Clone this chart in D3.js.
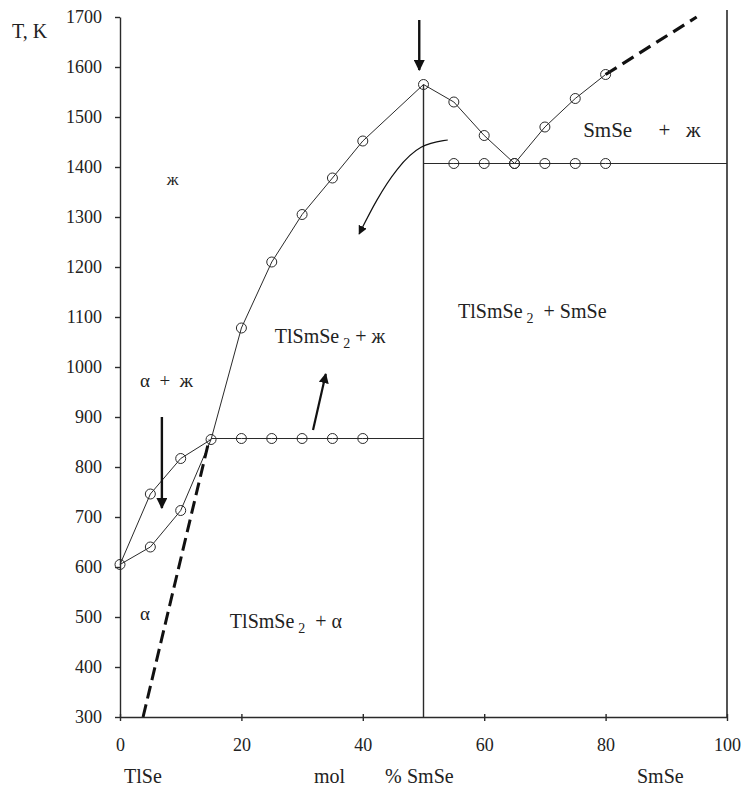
<!DOCTYPE html>
<html>
<head>
<meta charset="utf-8">
<script src="https://cdn.jsdelivr.net/npm/d3@7"></script>
<style>
  body { margin: 0; background: #fff; }
  svg text { font-family: "Liberation Serif", "DejaVu Serif", serif; fill: #222; white-space: pre; }
</style>
</head>
<body>
<div id="chart"></div>
<script>
// tick labels
const xTicks = [0, 20, 40, 60, 80, 100];
const yTicks = [300, 400, 500, 600, 700, 800, 900, 1000, 1100, 1200, 1300, 1400, 1500, 1600, 1700];

// liquidus of the alpha solid solution (upper) and solidus (lower)
const alphaLiqX = [0, 5, 10, 15];
const alphaLiqT = [605, 746, 817, 855];
const alphaSolX = [0, 5, 10, 15];
const alphaSolT = [605, 640, 713, 855];

// liquidus of TlSmSe2
const tlLiqX = [15, 20, 25, 30, 35, 40, 50];
const tlLiqT = [855, 1078, 1210, 1305, 1378, 1452, 1565];

// liquidus towards SmSe
const smLiqX = [50, 55, 60, 65, 70, 75, 80];
const smLiqT = [1565, 1530, 1463, 1407, 1480, 1537, 1585];
const smDashX = [80, 95];
const smDashT = [1585, 1700];

// alpha boundary (dashed)
const alphaDashX = [3.8, 14.7];
const alphaDashT = [300, 855];

// invariant lines
const eutX = [15, 20, 25, 30, 35, 40];
const eutT = 857;
const eutEnd = 50;
const perX = [55, 60, 65, 70, 75, 80];
const perT = 1407;
const perStart = 50, perEnd = 100;

const createDiagram = () => {
    const container = d3.select("#chart");
    container.selectAll("*").remove();
    const w = 742, h = 787;
    const svg = container.append("svg").attr("width", w).attr("height", h);

    const x = d3.scaleLinear().domain([0, 100]).range([120, 727]);
    const y = d3.scaleLinear().domain([300, 1700]).range([717, 17]);
    const ink = "#2a2a2a";

    const defs = svg.append("defs");
    defs.append("marker").attr("id", "head")
        .attr("viewBox", "0 0 10 10").attr("refX", 9).attr("refY", 5)
        .attr("markerWidth", 4.6).attr("markerHeight", 4.6).attr("orient", "auto")
        .append("path").attr("d", "M0,0 L10,5 L0,10 Z").attr("fill", "#111");
    defs.append("marker").attr("id", "headThin")
        .attr("viewBox", "0 0 10 10").attr("refX", 9).attr("refY", 5)
        .attr("markerWidth", 9).attr("markerHeight", 9).attr("markerUnits", "userSpaceOnUse")
        .attr("orient", "auto")
        .append("path").attr("d", "M0,0 L10,5 L0,10 Z").attr("fill", "#111");

    // axes
    const gx = svg.append("g").attr("transform", `translate(0,${y(300)})`)
        .call(d3.axisBottom(x).tickValues(xTicks).tickSize(4).tickSizeOuter(0));
    gx.selectAll(".tick line").attr("y1", -3);
    gx.selectAll(".tick text").attr("y", 34).attr("dy", 0).style("font-size", "18px");
    const gy = svg.append("g").attr("transform", `translate(${x(0)},0)`)
        .call(d3.axisLeft(y).tickValues(yTicks).tickFormat(d3.format("d")).tickSize(5).tickSizeOuter(0));
    gy.selectAll(".tick text").attr("x", -18).style("font-size", "18px");
    svg.selectAll(".domain, .tick line").attr("stroke", ink).attr("stroke-width", 1.4);

    const line = d3.line().x(d => x(d[0])).y(d => y(d[1]));
    const path = (xs, ts, opt = {}) => svg.append("path")
        .attr("d", line(xs.map((v, i) => [v, ts[i]])))
        .attr("fill", "none").attr("stroke", opt.color || ink)
        .attr("stroke-width", opt.width || 1)
        .attr("stroke-dasharray", opt.dash || null);

    // boundary verticals
    path([50, 50], [300, 1565], { width: 1.4 });
    path([100, 100], [300, 1714], { width: 1.6 });

    // curves
    path(alphaLiqX, alphaLiqT);
    path(alphaSolX, alphaSolT);
    path(tlLiqX, tlLiqT);
    path(smLiqX, smLiqT);
    path(eutX.concat([eutEnd]), eutX.map(() => eutT).concat([eutT]));
    path([perStart].concat(perX, [perEnd]), [perT].concat(perX.map(() => perT), [perT]));
    path(smDashX, smDashT, { width: 3.2, dash: "13,7", color: "#111" });
    path(alphaDashX, alphaDashT, { width: 3, dash: "13,6", color: "#111" });

    // circles
    const pts = [];
    alphaLiqX.forEach((v, i) => pts.push([v, alphaLiqT[i]]));
    alphaSolX.slice(1, 3).forEach((v, i) => pts.push([v, alphaSolT[i + 1]]));
    tlLiqX.slice(1).forEach((v, i) => pts.push([v, tlLiqT[i + 1]]));
    smLiqX.slice(1).forEach((v, i) => pts.push([v, smLiqT[i + 1]]));
    eutX.slice(1).forEach(v => pts.push([v, eutT]));
    perX.forEach(v => pts.push([v, perT]));
    svg.selectAll("circle.pt").data(pts).join("circle").attr("class", "pt")
        .attr("cx", d => x(d[0])).attr("cy", d => y(d[1])).attr("r", 5)
        .attr("fill", "none").attr("stroke", ink).attr("stroke-width", 1);

    // arrows
    const arrows = [
        { xs: [49.3, 49.3], ts: [1694, 1594], width: 2.4 },
        { xs: [6.9, 6.9], ts: [900, 718], width: 2.4 },
        { xs: [31.8, 33.9], ts: [874, 986], width: 2.2 }
    ];
    arrows.forEach(a => path(a.xs, a.ts, { width: a.width, color: "#111" }).attr("marker-end", "url(#head)"));
    const curve = d3.line().curve(d3.curveBasis).x(d => x(d[0])).y(d => y(d[1]));
    svg.append("path")
        .attr("d", curve([[54.0, 1454], [49.5, 1446], [45.6, 1398], [42.2, 1334], [39.4, 1266]]))
        .attr("fill", "none").attr("stroke", "#111").attr("stroke-width", 1.2)
        .attr("marker-end", "url(#headThin)");

    // phase-region labels
    const label = (xv, tv, size) => svg.append("text")
        .attr("x", x(xv)).attr("y", y(tv)).style("font-size", size + "px");
    label(7.7, 1364, 17).text("ж");
    label(3.3, 960, 19).text("α  +  ж");
    label(3.3, 494, 19).text("α");
    const sub = (t, a, b) => {
        t.append("tspan").text(a);
        t.append("tspan").attr("dx", 4).attr("dy", 5).style("font-size", "14px").text("2");
        t.append("tspan").attr("dy", -5).text(b);
    };
    sub(label(25.5, 1048, 20), "TlSmSe", " + ж");
    sub(label(55.7, 1098, 20), "TlSmSe", "  + SmSe");
    sub(label(18.1, 478, 20), "TlSmSe", "  + α");
    label(76.3, 1460, 21).text("SmSe     +   ж");

    // axis titles
    svg.append("text").attr("x", 12).attr("y", 38).style("font-size", "20px").text("T, K");
    const bottom = [["TlSe", 124], ["mol", 314], ["%", 385], ["SmSe", 407], ["SmSe", 637]];
    bottom.forEach(b => svg.append("text").attr("x", b[1]).attr("y", 783)
        .style("font-size", "20px").text(b[0]));
};

createDiagram();
</script>
</body>
</html>
